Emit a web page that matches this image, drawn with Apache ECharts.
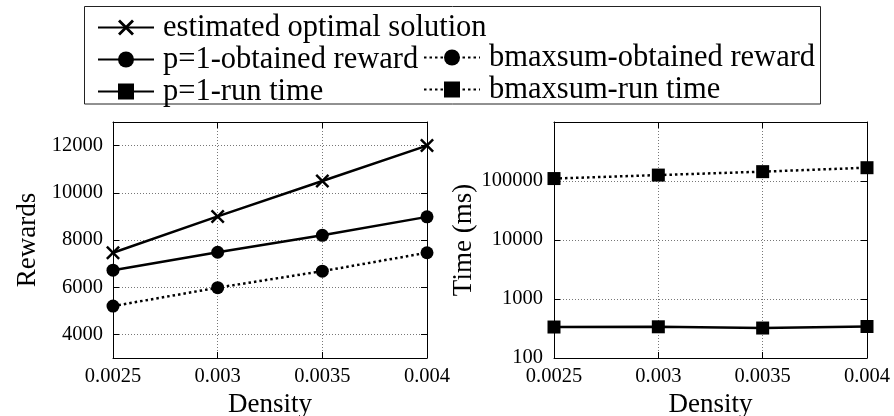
<!DOCTYPE html>
<html>
<head>
<meta charset="utf-8">
<script src="https://cdn.jsdelivr.net/npm/echarts@6/dist/echarts.min.js"></script>
<style>
html,body{margin:0;padding:0;background:#fff;}
#main{width:894px;height:416px;}
</style>
</head>
<body>
<div id="main"></div>
<script>
var density = ['0.0025', '0.003', '0.0035', '0.004'];
var estimatedOptimal = [7460, 9000, 10500, 12000];
var p1Reward = [6720, 7480, 8200, 8980];
var bmaxsumReward = [5200, 5980, 6680, 7460];
var p1RunTime = [335, 338, 322, 342];
var bmaxsumRunTime = [110000, 126000, 144000, 168000];
var rewardTicks = [4000, 6000, 8000, 10000, 12000];

var FONT = 'Liberation Serif';
var crossPath = 'path://M0,1.5L1.5,0L6,4.5L10.5,0L12,1.5L7.5,6L12,10.5L10.5,12L6,7.5L1.5,12L0,10.5L4.5,6Z';
var gridLine = {show: true, lineStyle: {color: '#777', width: 1, type: [1, 2]}};
var dots = [2.5, 3];

var xAxisOf = function(gridIndex, position, main){
	return {
		type: 'category', gridIndex: gridIndex, position: position, data: density, boundaryGap: false,
		name: main ? 'Density' : '', nameLocation: 'middle', nameGap: 25,
		nameTextStyle: {fontFamily: FONT, fontSize: 27, color: '#000'},
		axisLine: {lineStyle: {color: '#000', width: 1}},
		axisTick: {show: true, inside: true, length: 6, lineStyle: {color: '#000'}},
		axisLabel: {show: main, fontFamily: FONT, fontSize: 20.5, color: '#000', margin: 8},
		splitLine: main ? gridLine : {show: false}
	};
}

var rewardAxis = function(position, main){
	return {
		type: 'value', gridIndex: 0, position: position, min: 3000, max: 13000,
		name: main ? 'Rewards' : '', nameLocation: 'middle', nameGap: 72,
		nameTextStyle: {fontFamily: FONT, fontSize: 27, color: '#000'},
		axisLine: {show: true, lineStyle: {color: '#000', width: 1}},
		axisTick: {show: true, inside: true, length: 6, customValues: rewardTicks, lineStyle: {color: '#000'}},
		axisLabel: {show: main, customValues: rewardTicks, fontFamily: FONT, fontSize: 20.5, color: '#000', margin: 10,
			formatter: function(v){ return String(v); }},
		splitLine: main ? gridLine : {show: false}
	};
}

var timeAxis = function(position, main){
	return {
		type: 'log', logBase: 10, gridIndex: 1, position: position, min: 100, max: 1000000,
		name: main ? 'Time (ms)' : '', nameLocation: 'middle', nameGap: 75,
		nameTextStyle: {fontFamily: FONT, fontSize: 27, color: '#000'},
		axisLine: {show: true, lineStyle: {color: '#000', width: 1}},
		axisTick: {show: true, inside: true, length: 6, lineStyle: {color: '#000'}},
		axisLabel: {show: main, fontFamily: FONT, fontSize: 20.5, color: '#000', margin: 11,
			formatter: function(v){ return v >= 1000000 ? '' : String(v); }},
		splitLine: main ? gridLine : {show: false},
		minorTick: {show: false}
	};
}

var lineSeries = function(name, data, gi, symbol, dashed){
	return {
		name: name, type: 'line', data: data, xAxisIndex: gi * 2, yAxisIndex: gi * 2,
		symbol: symbol, symbolSize: symbol === crossPath ? 14 : 13,
		lineStyle: {color: '#000', width: 2.5, type: dashed ? dots : 'solid'},
		itemStyle: {color: '#000'},
		animation: false
	};
}

var legendText = {fontFamily: FONT, fontSize: 30.5, color: '#000', lineHeight: 29, padding: [0, 0, 0, 4]};

var option = {
	backgroundColor: '#fff',
	animation: false,
	grid: [
		{left: 113, top: 122, width: 314, height: 236, outerBoundsMode: 'none'},
		{left: 554, top: 122, width: 313, height: 236, outerBoundsMode: 'none'}
	],
	legend: [
		{orient: 'vertical', left: 97, top: 12, padding: 0, itemGap: 1, itemWidth: 56, itemHeight: 20,
			data: ['estimated optimal solution', 'p=1-obtained reward', 'p=1-run time'], textStyle: legendText},
		{orient: 'vertical', left: 423, top: 42, padding: 0, itemGap: 1, itemWidth: 56, itemHeight: 20,
			data: ['bmaxsum-obtained reward', 'bmaxsum-run time'], textStyle: legendText}
	],
	graphic: [{
		type: 'rect', shape: {x: 84.5, y: 6.5, width: 736, height: 97.5},
		style: {fill: 'none', stroke: '#222', lineWidth: 1}, silent: true
	}],
	xAxis: [xAxisOf(0, 'bottom', true), xAxisOf(0, 'top', false), xAxisOf(1, 'bottom', true), xAxisOf(1, 'top', false)],
	yAxis: [rewardAxis('left', true), rewardAxis('right', false), timeAxis('left', true), timeAxis('right', false)],
	series: [
		lineSeries('estimated optimal solution', estimatedOptimal, 0, crossPath, false),
		lineSeries('p=1-obtained reward', p1Reward, 0, 'circle', false),
		lineSeries('bmaxsum-obtained reward', bmaxsumReward, 0, 'circle', true),
		lineSeries('p=1-run time', p1RunTime, 1, 'rect', false),
		lineSeries('bmaxsum-run time', bmaxsumRunTime, 1, 'rect', true)
	]
};

var chart = echarts.init(document.getElementById('main'));
chart.setOption(option);
</script>
</body>
</html>
